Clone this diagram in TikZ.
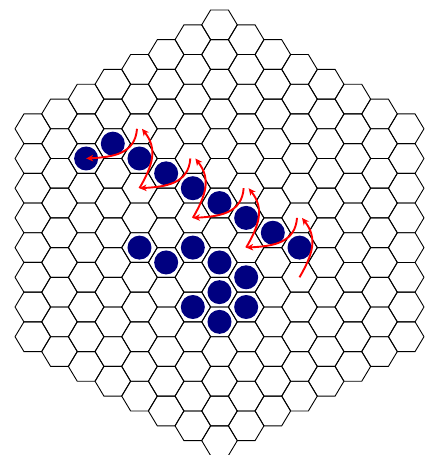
\documentclass[tikz,border=0pt]{standalone}
\usetikzlibrary{arrows.meta,calc}
\definecolor{navy}{RGB}{0,0,128}

\begin{document}
\begin{tikzpicture}[
  x={(26.67pt,-14.85pt)}, y={(0pt,-29.7pt)},
  cell/.style={draw=black, line width=0.9pt},
  stone/.style={circle, fill=navy, inner sep=0pt, minimum size=24pt},
  move/.style={-{Stealth[length=7pt,width=6.5pt,inset=2pt]}, red, line width=1.9pt}
]
\useasboundingbox (-219.5pt,-222.25pt) rectangle (209.5pt,232.75pt);
% board of radius 7
\foreach \q in {-7,...,7} {
  \pgfmathtruncatemacro\rlo{max(-7,-7-\q)}
  \pgfmathtruncatemacro\rhi{min(7,7-\q)}
  \foreach \r in {\rlo,...,\rhi} {
    \coordinate (h\q_\r) at (\q,\r);
    \draw[cell, shift={(\q,\r)}] (17.78pt,0pt) -- (8.89pt,14.85pt)
      -- (-8.89pt,14.85pt) -- (-17.78pt,0pt) -- (-8.89pt,-14.85pt)
      -- (8.89pt,-14.85pt) -- cycle;
  }
}
% stones
\foreach \q/\r in {-5/0,-4/-1,-3/-1,-2/-1,-1/-1,0/-1,1/-1,2/-1,3/-1,
                   -3/2,-2/2,-1/1,0/1,1/1,0/2,-1/3,1/2,0/3}
  \node[stone] (s\q_\r) at (h\q_\r) {};
% moves
\foreach \a/\b in {-3/-5,-1/-3,1/-1,3/1} {
  \draw[move] ($(h\a_-2)+(-2.5pt,0pt)$)
    .. controls +(-94:25pt) and +(3:27pt) .. (h\b_0);
  \draw[move] (h\a_0)
    .. controls +(60:26pt) and +(-52:26pt) .. ($(h\a_-2)+(2.5pt,0pt)$);
}
\end{tikzpicture}
\end{document}
